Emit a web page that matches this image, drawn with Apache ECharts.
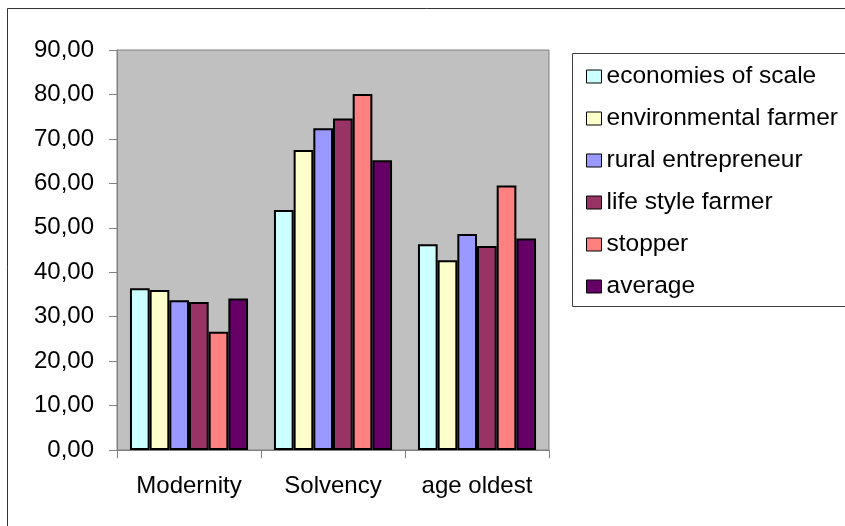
<!DOCTYPE html>
<html>
<head>
<meta charset="utf-8">
<script src="https://cdn.jsdelivr.net/npm/echarts@6/dist/echarts.min.js"></script>
<style>
  html, body { margin: 0; padding: 0; background: #ffffff; }
  #chart { width: 845px; height: 526px; }
</style>
</head>
<body>
<div id="chart"></div>
<script>
// Farmer-type scores per criterion
const categories = ['Modernity', 'Solvency', 'age oldest'];
const seriesNames = ['economies of scale', 'environmental farmer', 'rural entrepreneur', 'life style farmer', 'stopper', 'average'];
const economiesOfScale   = [36.4, 54.0, 46.3];
const environmentalFarmer = [36.0, 67.5, 42.7];
const ruralEntrepreneur  = [33.7, 72.4, 48.6];
const lifeStyleFarmer    = [33.3, 74.6, 45.9];
const stopper            = [26.6, 80.1, 59.5];
const average            = [34.1, 65.2, 47.6];
const yTicks = { min: 0, max: 90, step: 10 };

const seriesValues = [economiesOfScale, environmentalFarmer, ruralEntrepreneur, lifeStyleFarmer, stopper, average];
const colors = ['#CCFFFF', '#FFFFCC', '#9999FF', '#993366', '#FF8080', '#660066'];
const FONT = '"Liberation Sans", Arial, sans-serif';

const chart = echarts.init(document.getElementById('chart'), null, { renderer: 'canvas' });

chart.setOption({
  animation: false,
  backgroundColor: '#ffffff',
  grid: {
    left: 117, right: 296, top: 50, bottom: 76,
    show: true, backgroundColor: '#C0C0C0', borderColor: '#808080', borderWidth: 1
  },
  xAxis: {
    type: 'category',
    data: categories,
    axisLine: { lineStyle: { color: '#808080', width: 1 } },
    axisTick: { show: true, length: 8, lineStyle: { color: '#808080' } },
    axisLabel: { color: '#000', fontFamily: FONT, fontSize: 24, margin: 24 }
  },
  yAxis: {
    type: 'value',
    min: yTicks.min, max: yTicks.max, interval: yTicks.step,
    splitLine: { show: false },
    axisLine: { show: true, lineStyle: { color: '#808080', width: 1 } },
    axisTick: { show: true, length: 8, lineStyle: { color: '#808080' } },
    axisLabel: {
      color: '#000', fontFamily: FONT, fontSize: 24, margin: 23,
      formatter: v => v.toFixed(2).replace('.', ',')
    }
  },
  legend: {
    orient: 'vertical',
    left: 581, top: 59,
    itemWidth: 15, itemHeight: 13, itemGap: 17,
    icon: 'rect',
    itemStyle: { borderColor: '#000', borderWidth: 1 },
    textStyle: { color: '#000', fontFamily: FONT, fontSize: 24.5, lineHeight: 25 },
    data: seriesNames
  },
  graphic: [
    // outer frame (left and top edges)
    { type: 'polyline', shape: { points: [[7.5, 526], [7.5, 8.5], [845, 8.5]] },
      style: { stroke: '#333', lineWidth: 1, fill: null }, z: 10 },
    // legend frame
    { type: 'rect', shape: { x: 572.5, y: 53.5, width: 300, height: 253 },
      style: { stroke: '#404040', lineWidth: 1, fill: null }, z: 10 }
  ],
  series: seriesNames.map((name, i) => ({
    name,
    type: 'bar',
    data: seriesValues[i],
    barGap: '0%',
    barCategoryGap: '18%',
    itemStyle: { color: colors[i], borderColor: '#000', borderWidth: 2 }
  }))
});
</script>
</body>
</html>
